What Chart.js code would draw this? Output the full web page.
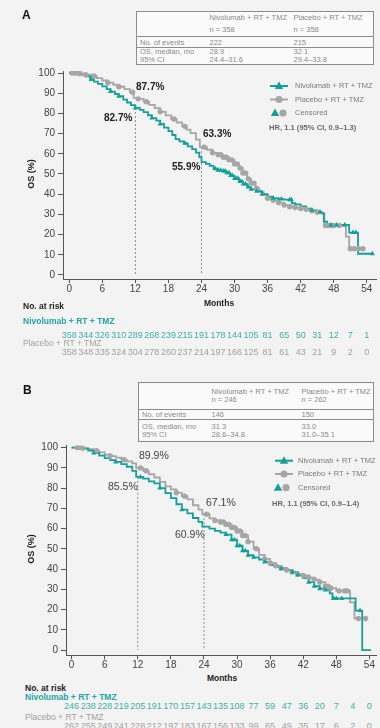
<!DOCTYPE html>
<html><head><meta charset="utf-8">
<script src="https://cdn.jsdelivr.net/npm/chart.js@4.4.1/dist/chart.umd.min.js"></script>
<style>
html,body{margin:0;padding:0;}
body{width:380px;height:728px;position:relative;overflow:hidden;background:#f3f3f3;font-family:"Liberation Sans",Arial,Helvetica,sans-serif;}
.t{position:absolute;white-space:nowrap;line-height:1;}
canvas{position:absolute;left:0;}
table.info{position:absolute;border-collapse:collapse;background:#fafafa;font-size:7.5px;color:#8a8a8a;border:1px solid #8c8c8c;table-layout:fixed;}
table.info td{padding:0 0 0 3px;border-top:1px solid #8c8c8c;vertical-align:middle;white-space:nowrap;overflow:hidden;}
</style></head><body>
<canvas id="cA" width="380" height="300" style="top:0px"></canvas>
<canvas id="cB" width="380" height="302" style="top:370px"></canvas>

<table class="info" style="left:136px;top:11px;width:237px;">
<colgroup><col style="width:70px"><col style="width:84px"><col style="width:83px"></colgroup>
<tr style="height:24px;line-height:12px"><td></td><td>Nivolumab + RT + TMZ<br>n = 358</td><td>Placebo + RT + TMZ<br>n = 358</td></tr>
<tr style="height:11px;line-height:9px"><td>No. of events</td><td>222</td><td>215</td></tr>
<tr style="height:16px;line-height:8px"><td>OS, median, mo<br>95% CI</td><td>28.9<br>24.4–31.6</td><td>32.1<br>29.4–33.8</td></tr>
</table>

<table class="info" style="left:138px;top:382px;width:235px;">
<colgroup><col style="width:70px"><col style="width:90px"><col style="width:75px"></colgroup>
<tr style="height:27px;line-height:8px"><td></td><td>Nivolumab + RT + TMZ<br>n = 246</td><td>Placebo + RT + TMZ<br>n = 262</td></tr>
<tr style="height:10px;line-height:9px"><td>No. of events</td><td>146</td><td>150</td></tr>
<tr style="height:22px;line-height:8px"><td>OS, median, mo<br>95% CI</td><td>31.3<br>28.6–34.8</td><td>33.0<br>31.0–35.1</td></tr>
</table>

<script>
// ---------- data ----------
const monthTicks = [0, 6, 12, 18, 24, 30, 36, 42, 48, 54];
const pctTicks = [0, 10, 20, 30, 40, 50, 60, 70, 80, 90, 100];
const riskMonths = [0, 3, 6, 9, 12, 15, 18, 21, 24, 27, 30, 33, 36, 39, 42, 45, 48, 51, 54];
const landmarkMonths = [12, 24];

// Panel A
const aNivoT = [0,1.5,2.2,3,3.8,4.5,5.2,6,6.8,7.5,8.3,9,9.8,10.5,11.2,12,12.8,13.5,14.3,15,15.8,16.5,17.2,18,18.7,19.3,20,20.8,21.5,22.3,23,23.6,24,24.8,25.5,26.2,27,27.8,28.5,29.2,30,30.8,31.5,32.3,33,34,35,36,37,38,39,40.4,41,42,43,44,45,45.8,46.2,46.8,50.8,52.4,55];
const aNivoS = [100,99.7,99.2,98.3,96.8,95.7,94.6,93.4,92,90.8,89.6,88.5,86.8,85.4,84.1,82.7,81.7,80.6,79.1,77.7,76.4,74.8,73,71.2,69.3,67.3,66.2,65.2,63.7,62.3,60.6,58.4,55.9,55,54,52.6,51.8,51.5,50.6,49.2,47.8,46.3,45,43.5,42.4,41.5,40,38.8,38,37.6,37.3,35.5,35,34,32.8,32,31.2,30.5,26.4,24.8,21,10.5,10.5];
const aPlacT = [0,2,3,4,5,6,7,8,9,10,11,11.7,12.5,13.5,14.5,15.5,16.5,17.5,18.5,19.5,20.5,21.3,22,23,23.7,25,26,27,28,29,30,30.8,31.5,32.3,33,33.8,34.5,35.3,36,37,38,39,40,41,42,43,44,45,45.8,46.3,50.2,50.8,53.6];
const aPlacS = [100,99.7,99.2,98.5,97.5,96.3,95.2,94.2,93.2,92,90.5,87.7,87.2,85.8,84.2,82.6,80.8,79,77.2,75.5,73.6,72,70.2,67,63.3,62,60.5,59.5,58.3,57,55,53,50.5,47.6,45.5,43,41,39.6,38,37,35.8,34.6,33.8,33.4,32.9,32.5,31.8,31,30.5,24.5,19,13,13];
const aNivoCensor = [4,7.5,9,12,15,16.5,21,26.5,27,27.5,28,28.3,28.6,29,29.3,29.6,30,30.3,30.6,31,31.3,31.6,32,32.5,33,34,35,37,38.5,40,40.3,44,45.5,47.5,48.5,50,51.5,52,55];
const aPlacCensor = [0.5,1,1.5,2,3,4.5,7,9,11.5,12.5,14,16.5,19,21,24.5,26,27,27.5,28,28.5,29,29.5,30,30.5,31,31.5,32,32.5,33,33.5,34,36,37,38,39,40,41,42,43,44,45,46.5,47,47.5,48,49,51,51.7,52.5,53.3];
const aLandmarkTop = [82.7, 63.3];
const aRiskNivo = [358,344,326,310,289,268,239,215,191,178,144,105,81,65,50,31,12,7,1];
const aRiskPlac = [358,348,335,324,304,278,260,237,214,197,166,125,81,61,43,21,9,2,0];

// Panel B
const bNivoT = [0,2,3,4,5,6,7,8,9,10,11,11.7,13,14,15,16,17,18,19,20,21,22,23,23.7,25,26,27,28,29,30,31,32,33,34,35,36,37,38,39,40,41,42,43,44,45,46,46.8,47.3,51.5,52.7,54.3];
const bNivoS = [100,99.5,98.5,97.3,96,94.8,93.8,92.9,91.8,90.5,88.5,85.5,84.6,83.3,82.3,80,77.5,75,72,69.3,67.5,65.2,63.3,60.9,60,58.8,58,57,54.5,51.5,49,46.8,45.8,44.7,43.5,42,41,40.2,39.5,38.5,37,35.5,33.5,31.5,30.3,29.6,28,25.5,19.5,0,0];
const bPlacT = [0,2,3,4,5,6,7,8,9,10,11,11.7,13,14,15,16,17,18,19,20,21,22,23,23.7,25,26,27,28,29,30,31,32,33,34,35,36,37,38,39,40,41,42,43,44,45,46,47,48,50.5,51.3,53.6];
const bPlacS = [100,99.7,99.2,98.4,97.6,96.5,95.8,95,94,93.2,92.2,89.9,88.5,86.8,85.2,83,80.8,79.3,77.7,76,74.4,71.5,69.3,67.1,65,64,63.2,62,60.5,58.8,56.5,53.5,50,47,45,43,41.6,40.5,39.5,38.5,37.5,36.8,35.8,34.8,33.5,31.5,30.5,29.2,23.5,15.6,15.6];
const bNivoCensor = [4,8,12.5,16,20,28,29,29.5,30,30.5,31,31.5,32,33,35,38,40,41,43,44,45,46,47.5,48,49,52.3];
const bPlacCensor = [1,1.5,2,4.5,7,9.5,12.5,13.5,19,20.5,24.5,26,27,27.5,28,28.5,29,29.5,30,30.5,31,31.5,32,33.5,35,36,37,38,39,40,41,42,43,44,45,46,46.5,47,48.5,49.5,50,52,53.3];
const bLandmarkTop = [85.5, 67.1];
const bRiskNivo = [246,238,228,219,205,191,170,157,143,135,108,77,59,47,36,20,7,4,0];
const bRiskPlac = [262,255,249,241,228,212,197,183,167,156,133,99,65,49,35,17,6,2,0];

// ---------- styling ----------
const FONT = '"Liberation Sans", Arial, Helvetica, sans-serif';
const TEAL = '#14a09a', GRAY = '#a6a6a6';
const TEAL_TXT = '#23a5a0', TEAL_NUM = '#3eafaa', GRAY_TXT = '#a2a2a2';

function stepPts(T, S) { return T.map((t, i) => ({x: t, y: S[i]})); }
function survAt(T, S, t) { let v = S[0]; for (let i = 0; i < T.length; i++) { if (T[i] <= t) v = S[i]; else break; } return v; }
function censorPts(C, T, S) { return C.map(t => ({x: t, y: survAt(T, S, t)})); }

function tri(ctx, x, y, r) {
  ctx.beginPath();
  ctx.moveTo(x, y - r);
  ctx.lineTo(x + r * 0.95, y + r * 0.65);
  ctx.lineTo(x - r * 0.95, y + r * 0.65);
  ctx.closePath(); ctx.fill();
}
function dot(ctx, x, y, r) { ctx.beginPath(); ctx.arc(x, y, r, 0, Math.PI * 2); ctx.fill(); }

const legendIcons = {
  id: 'legendIcons',
  afterDraw(chart) {
    const L = chart.options.plugins.legendIcons;
    const ctx = chart.ctx; ctx.save();
    ctx.lineWidth = 2;
    ctx.strokeStyle = TEAL; ctx.beginPath(); ctx.moveTo(L.x0, L.rows[0]); ctx.lineTo(L.x1, L.rows[0]); ctx.stroke();
    ctx.fillStyle = TEAL; tri(ctx, (L.x0 + L.x1) / 2, L.rows[0], 4.5);
    ctx.strokeStyle = GRAY; ctx.beginPath(); ctx.moveTo(L.x0, L.rows[1]); ctx.lineTo(L.x1, L.rows[1]); ctx.stroke();
    ctx.fillStyle = GRAY; dot(ctx, (L.x0 + L.x1) / 2, L.rows[1], 3.6);
    ctx.fillStyle = TEAL; tri(ctx, L.c0, L.rows[2], 4.5);
    ctx.fillStyle = GRAY; dot(ctx, L.c1, L.rows[2], 3.6);
    ctx.restore();
  }
};

function makePanel(p) {
  const dashDs = (m, top) => ({data: [{x: m, y: top}, {x: m, y: 0}], borderColor: '#8a8a8a', borderWidth: 1, borderDash: [2, 2], pointRadius: 0});
  return new Chart(document.getElementById(p.id), {
    type: 'line',
    data: {datasets: [
      {data: censorPts(p.nivoC, p.nivoT, p.nivoS), showLine: false, pointStyle: 'triangle', pointRadius: 3, pointBackgroundColor: TEAL, pointBorderColor: TEAL, pointBorderWidth: 0},
      {data: censorPts(p.placC, p.placT, p.placS), showLine: false, pointStyle: 'circle', pointRadius: 2.7, pointBackgroundColor: GRAY, pointBorderColor: GRAY, pointBorderWidth: 0},
      {data: stepPts(p.nivoT, p.nivoS), stepped: 'before', borderColor: TEAL, borderWidth: 1.8, pointRadius: 0},
      {data: stepPts(p.placT, p.placS), stepped: 'before', borderColor: GRAY, borderWidth: 1.8, pointRadius: 0},
      dashDs(landmarkMonths[0], p.lmTop[0]),
      dashDs(landmarkMonths[1], p.lmTop[1])
    ]},
    options: {
      responsive: false, animation: false, events: [],
      layout: {padding: {left: 0, right: 0, top: p.padTop, bottom: 0}},
      plugins: {legend: {display: false}, tooltip: {enabled: false}, legendIcons: p.legend},
      scales: {
        x: {type: 'linear', min: p.xmin, max: p.xmax,
          afterBuildTicks: s => { s.ticks = monthTicks.map(v => ({value: v})); },
          afterFit: s => { s.height = p.xh; },
          grid: {drawOnChartArea: false, drawTicks: true, tickLength: 4, color: '#555'},
          border: {display: true, color: '#555', width: 1},
          ticks: {autoSkip: false, maxRotation: 0, padding: 0, color: '#444', font: {family: FONT, size: 10}}},
        y: {type: 'linear', min: p.ymin, max: p.ymax,
          afterBuildTicks: s => { s.ticks = pctTicks.map(v => ({value: v})); },
          afterFit: s => { s.width = p.yw; },
          grid: {drawOnChartArea: false, drawTicks: true, tickLength: 5, color: '#555'},
          border: {display: true, color: '#555', width: 1},
          ticks: {autoSkip: false, padding: 3, color: '#444', font: {family: FONT, size: 10}}}
      }
    },
    plugins: [legendIcons]
  });
}

function T(txt, x, cy, size, opt) {
  opt = opt || {};
  const s = document.createElement('span');
  s.className = 't'; s.textContent = txt;
  s.style.fontSize = size + 'px';
  s.style.left = x + 'px';
  s.style.top = (cy - 0.49 * size) + 'px';
  s.style.color = opt.color || '#222';
  if (opt.bold) s.style.fontWeight = 'bold';
  if (opt.center) s.style.transform = 'translateX(-50%)';
  if (opt.rot) { s.style.top = cy + 'px'; s.style.transform = 'translate(-50%,-50%) rotate(-90deg)'; }
  document.body.appendChild(s);
  return s;
}

const chartA = makePanel({id: 'cA', nivoT: aNivoT, nivoS: aNivoS, placT: aPlacT, placS: aPlacS,
  nivoC: aNivoCensor, placC: aPlacCensor, lmTop: aLandmarkTop,
  xmin: -1.128, xmax: 55.665, ymin: -2, ymax: 101, padTop: 71, xh: 21, yw: 63,
  legend: {x0: 270, x1: 288, rows: [86, 99.5, 113], c0: 275, c1: 283}});
const chartB = makePanel({id: 'cB', nivoT: bNivoT, nivoS: bNivoS, placT: bPlacT, placS: bPlacS,
  nivoC: bNivoCensor, placC: bPlacCensor, lmTop: bLandmarkTop,
  xmin: -1.02, xmax: 55.2, ymin: -2.6, ymax: 101, padTop: 75.5, xh: 16.7, yw: 66,
  legend: {x0: 275, x1: 293, rows: [90.7, 104, 117.7], c0: 278, c1: 286}});

// ---------- texts: panel A ----------
T('A', 22, 15, 12, {bold: true, color: '#111'});
T('87.7%', 136, 86.7, 10, {bold: true});
T('82.7%', 104, 117.7, 10, {bold: true});
T('63.3%', 203, 134, 10, {bold: true});
T('55.9%', 172, 166.7, 10, {bold: true});
T('Nivolumab + RT + TMZ', 295, 86, 7.5, {color: '#7a7a7a'});
T('Placebo + RT + TMZ', 295, 99.5, 7.5, {color: '#7a7a7a'});
T('Censored', 295, 113, 7.5, {color: '#7a7a7a'});
T('HR, 1.1 (95% CI, 0.9–1.3)', 269, 128, 7.6, {bold: true, color: '#6a6a6a'});
T('OS (%)', 31, 174, 9, {bold: true, rot: true});
T('Months', 219, 303, 8.5, {bold: true, center: true});
T('No. at risk', 23, 306, 8.5, {bold: true});
T('Nivolumab + RT + TMZ', 23, 320.7, 8.5, {bold: true, color: TEAL_TXT});
T('Placebo + RT + TMZ', 23, 343, 8.5, {color: GRAY_TXT});

// ---------- texts: panel B ----------
T('B', 23, 390, 12, {bold: true, color: '#111'});
T('89.9%', 139, 455, 10.5, {color: '#444'});
T('85.5%', 108, 485.7, 10.5, {color: '#444'});
T('67.1%', 206, 502.3, 10.5, {color: '#444'});
T('60.9%', 175, 534.3, 10.5, {color: '#444'});
T('Nivolumab + RT + TMZ', 298, 460.7, 7.5, {color: '#7a7a7a'});
T('Placebo + RT + TMZ', 298, 474, 7.5, {color: '#7a7a7a'});
T('Censored', 298, 487.7, 7.5, {color: '#7a7a7a'});
T('HR, 1.1 (95% CI, 0.9–1.4)', 272, 503.3, 7.6, {bold: true, color: '#6a6a6a'});
T('OS (%)', 31, 549, 9, {bold: true, rot: true});
T('Months', 222, 678.3, 8.5, {bold: true, center: true});
T('No. at risk', 25, 688, 8.5, {bold: true});
T('Nivolumab + RT + TMZ', 25, 697, 8.5, {bold: true, color: TEAL_TXT});
T('Placebo + RT + TMZ', 25, 716.7, 8.5, {color: GRAY_TXT});

// ---------- number at risk, placed by the x scale ----------
function riskRow(chart, vals, cy, color) {
  const xs = chart.scales.x;
  vals.forEach((v, i) => T(String(v), xs.getPixelForValue(riskMonths[i]), cy, 9, {center: true, color: color}));
}
riskRow(chartA, aRiskNivo, 335, TEAL_NUM);
riskRow(chartA, aRiskPlac, 352, GRAY_TXT);
riskRow(chartB, bRiskNivo, 706.7, TEAL_NUM);
riskRow(chartB, bRiskPlac, 726, GRAY_TXT);
</script>
</body></html>
